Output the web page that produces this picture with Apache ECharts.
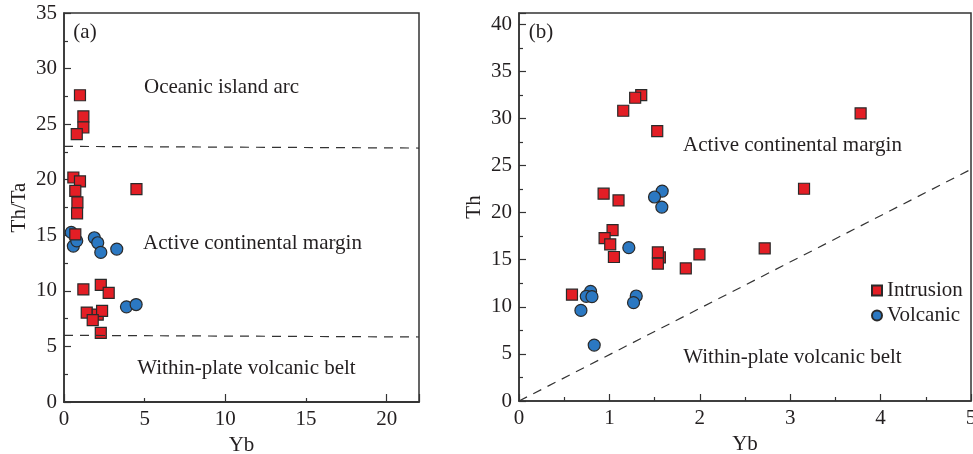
<!DOCTYPE html>
<html>
<head>
<meta charset="utf-8">
<script src="https://cdn.jsdelivr.net/npm/echarts@6/dist/echarts.min.js"></script>
<style>
html,body{margin:0;padding:0;background:#fff;}
#c{width:973px;height:454px;}
</style>
</head>
<body>
<div id="c"></div>
<script>
// ---- Data ----
// Panel (a): Yb vs Th/Ta
const aIntrusion = [
  [0.99,27.6],[1.2,25.7],[1.2,24.7],[0.79,24.1],
  [0.58,20.2],[0.99,19.85],[0.7,19.0],[0.83,17.96],[0.81,16.97],[0.7,15.08],
  [4.49,19.16],
  [1.2,10.13],[2.28,10.54],[2.77,9.82],[1.41,8.05],[2.09,7.87],[2.36,8.2],[1.78,7.36],[2.28,6.22]
];
const aVolcanic = [
  [0.45,15.26],[0.58,14.03],[0.79,14.5],[1.88,14.78],[2.09,14.33],[2.28,13.46],[3.27,13.76],
  [3.87,8.56],[4.47,8.77]
];
// Panel (b): Yb vs Th
const bIntrusion = [
  [1.352,32.48],[1.285,32.2],[1.153,30.82],[1.529,28.66],[3.779,30.54],[3.153,22.54],
  [0.936,22.01],[1.101,21.3],[1.035,18.15],[0.947,17.3],[1.009,16.63],[1.05,15.29],
  [1.558,15.25],[1.536,15.78],[1.536,14.58],[1.845,14.08],[1.996,15.57],[2.718,16.21],[0.586,11.29]
];
const bVolcanic = [
  [1.584,22.29],[1.499,21.66],[1.58,20.59],[1.215,16.28],
  [0.792,11.64],[0.744,11.11],[0.807,11.08],[1.297,11.15],[1.267,10.44],
  [0.685,9.62],[0.832,5.94]
];
// Boundary lines
const aUpperBoundary = [[0,23],[22,22.85]];
const aLowerBoundary = [[0,6],[22,5.85]];
const bBoundary = [[0,0],[5,24.6]];
// Axis ranges / ticks
const aXRange = [0,22], aYRange = [0,35];
const bXRange = [0,5], bYRange = [0,41.2];
const seriesNames = ['Intrusion','Volcanic'];
const regionLabelsA = ['Oceanic island arc','Active continental margin','Within-plate volcanic belt'];
const regionLabelsB = ['Active continental margin','Within-plate volcanic belt'];

const FONT = "'Liberation Serif','Times New Roman',serif";
const TXT = '#231f20';
const AX = '#333';
const RED = '#e31e25';
const BLUE = '#2b78c2';
const BORDER = '#2a2a2a';

function baseAxis(extra){
  return Object.assign({
    type:'value',
    axisLine:{show:true,lineStyle:{color:AX,width:1.5}},
    splitLine:{show:false},
    axisLabel:{color:TXT,fontFamily:FONT,fontSize:21,margin:7},
    nameTextStyle:{color:TXT,fontFamily:FONT,fontSize:21},
    nameLocation:'middle'
  }, extra);
}

const chart = echarts.init(document.getElementById('c'), null, {renderer:'canvas'});
const option = {
  animation:false,
  backgroundColor:'#fff',
  grid:[
    {left:64, top:13, width:355, height:389, show:true, borderColor:AX, borderWidth:1.5, containLabel:false, outerBoundsMode:'none'},
    {left:519, top:13, width:452, height:388, show:true, borderColor:AX, borderWidth:1.5, containLabel:false, outerBoundsMode:'none'}
  ],
  xAxis:[
    baseAxis({gridIndex:0,min:aXRange[0],max:aXRange[1],interval:5,name:'Yb',nameGap:31,
      axisTick:{show:false},axisLabel:{color:TXT,fontFamily:FONT,fontSize:21,margin:7,showMaxLabel:false}}),
    baseAxis({gridIndex:0,min:aXRange[0],max:aXRange[1],interval:10,position:'bottom',
      axisLabel:{show:false},
      axisTick:{show:true,inside:true,length:8,lineStyle:{color:AX,width:1.2}},
      minorTick:{show:true,splitNumber:2,length:4,lineStyle:{color:AX,width:1.2}}}),
    baseAxis({gridIndex:1,min:bXRange[0],max:bXRange[1],interval:1,name:'Yb',nameGap:31,
      axisTick:{show:true,inside:true,length:7,lineStyle:{color:AX,width:1.2}},
      minorTick:{show:true,splitNumber:2,length:4,lineStyle:{color:AX,width:1.2}}})
  ],
  yAxis:[
    baseAxis({gridIndex:0,min:aYRange[0],max:aYRange[1],interval:5,name:'Th/Ta',nameGap:34,
      axisTick:{show:true,inside:true,length:7,lineStyle:{color:AX,width:1.2}},
      minorTick:{show:true,splitNumber:2,length:4,lineStyle:{color:AX,width:1.2}}}),
    baseAxis({gridIndex:1,min:bYRange[0],max:bYRange[1],interval:5,name:'Th',nameGap:34,
      axisLabel:{color:TXT,fontFamily:FONT,fontSize:21,margin:7,showMaxLabel:false},
      axisTick:{show:true,inside:true,length:7,lineStyle:{color:AX,width:1.2}},
      minorTick:{show:true,splitNumber:2,length:4,lineStyle:{color:AX,width:1.2}}})
  ],
  legend:{
    left:866, top:275, orient:'vertical', itemWidth:10, itemHeight:10, itemGap:4,
    textStyle:{color:TXT,fontFamily:FONT,fontSize:21},
    data:[{name:seriesNames[0],icon:'rect'},{name:seriesNames[1],icon:'circle'}]
  },
  graphic:[
    {type:'text',x:85,y:32,style:{text:'(a)',fill:TXT,font:'21px '+FONT,textAlign:'center',textVerticalAlign:'middle'}},
    {type:'text',x:221.5,y:87,style:{text:regionLabelsA[0],fill:TXT,font:'21px '+FONT,textAlign:'center',textVerticalAlign:'middle'}},
    {type:'text',x:252.5,y:243,style:{text:regionLabelsA[1],fill:TXT,font:'21px '+FONT,textAlign:'center',textVerticalAlign:'middle'}},
    {type:'text',x:246.5,y:368,style:{text:regionLabelsA[2],fill:TXT,font:'21px '+FONT,textAlign:'center',textVerticalAlign:'middle'}},
    {type:'text',x:541,y:32,style:{text:'(b)',fill:TXT,font:'21px '+FONT,textAlign:'center',textVerticalAlign:'middle'}},
    {type:'text',x:792.5,y:145,style:{text:regionLabelsB[0],fill:TXT,font:'21px '+FONT,textAlign:'center',textVerticalAlign:'middle'}},
    {type:'text',x:792.5,y:357,style:{text:regionLabelsB[1],fill:TXT,font:'21px '+FONT,textAlign:'center',textVerticalAlign:'middle'}}
  ],
  series:[
    {type:'line',xAxisIndex:0,yAxisIndex:0,data:aUpperBoundary,symbol:'none',silent:true,
      lineStyle:{color:AX,width:1.2,type:[9,7]}},
    {type:'line',xAxisIndex:0,yAxisIndex:0,data:aLowerBoundary,symbol:'none',silent:true,
      lineStyle:{color:AX,width:1.2,type:[9,7]}},
    {type:'line',xAxisIndex:2,yAxisIndex:1,data:bBoundary,symbol:'none',silent:true,
      lineStyle:{color:AX,width:1.2,type:[9,7]}},
    {name:seriesNames[1],type:'scatter',xAxisIndex:0,yAxisIndex:0,data:aVolcanic,symbol:'circle',symbolSize:12,
      itemStyle:{color:BLUE,borderColor:BORDER,borderWidth:1.2,opacity:1}},
    {name:seriesNames[0],type:'scatter',xAxisIndex:0,yAxisIndex:0,data:aIntrusion,symbol:'rect',symbolSize:11,
      itemStyle:{color:RED,borderColor:BORDER,borderWidth:1.2,opacity:1}},
    {name:seriesNames[1],type:'scatter',xAxisIndex:2,yAxisIndex:1,data:bVolcanic,symbol:'circle',symbolSize:12,
      itemStyle:{color:BLUE,borderColor:BORDER,borderWidth:1.2,opacity:1}},
    {name:seriesNames[0],type:'scatter',xAxisIndex:2,yAxisIndex:1,data:bIntrusion,symbol:'rect',symbolSize:11,
      itemStyle:{color:RED,borderColor:BORDER,borderWidth:1.2,opacity:1}}
  ]
};
chart.setOption(option);
</script>
</body>
</html>
